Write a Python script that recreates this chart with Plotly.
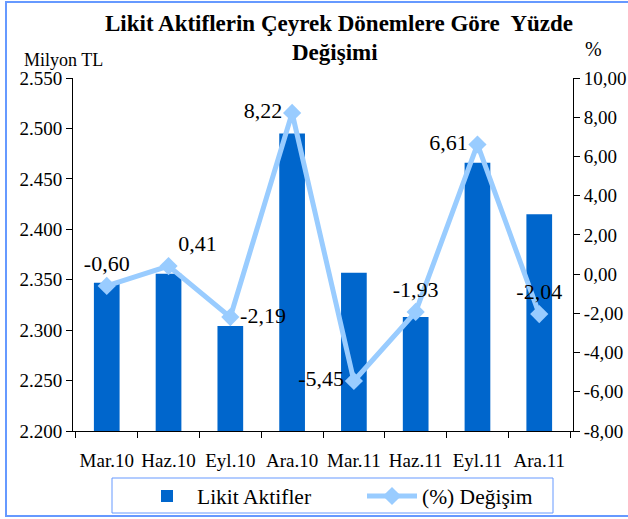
import plotly.graph_objects as go

quarters = ["Mar.10", "Haz.10", "Eyl.10", "Ara.10", "Mar.11", "Haz.11", "Eyl.11", "Ara.11"]
likit_aktifler = [2347, 2356, 2304, 2495, 2357, 2313, 2466, 2415]
degisim = [-0.60, 0.41, -2.19, 8.22, -5.45, -1.93, 6.61, -2.04]
label_pos = ["top center", "top right", "middle right", "middle left",
             "middle left", "top center", "middle left", "top center"]
left_ticks = [2200, 2250, 2300, 2350, 2400, 2450, 2500, 2550]
left_ticktext = ["2.200", "2.250", "2.300", "2.350", "2.400", "2.450", "2.500", "2.550"]
right_ticks = [-8, -6, -4, -2, 0, 2, 4, 6, 8, 10]
right_ticktext = ["-8,00", "-6,00", "-4,00", "-2,00", "0,00", "2,00", "4,00", "6,00", "8,00", "10,00"]

FONT = "Liberation Serif"

fig = go.Figure()
fig.add_trace(go.Bar(
    x=quarters, y=likit_aktifler, name="Likit Aktifler",
    marker=dict(color="#0066CC", line=dict(width=0)),
))
fig.add_trace(go.Scatter(
    x=quarters, y=degisim, name="(%) Değişim", yaxis="y2",
    mode="lines+markers+text",
    line=dict(color="#99CCFF", width=5),
    marker=dict(color="#99CCFF", size=14, symbol="diamond"),
    text=[f"{v:.2f}".replace(".", ",") for v in degisim],
    textposition=label_pos,
    textfont=dict(family=FONT, size=22, color="black"),
))

W, H = 628, 519
L, R, T, B = 73, 55, 78, 88
pw, ph = W - L - R, H - T - B


def px(x):
    return (x - L) / pw


def py(y):
    return (H - B - y) / ph


fig.update_layout(
    width=W, height=H, autosize=False,
    margin=dict(l=L, r=R, t=T, b=B, autoexpand=False),
    paper_bgcolor="white", plot_bgcolor="white",
    font=dict(family=FONT, size=19, color="black"),
    bargap=0.584,
    showlegend=True,
    legend=dict(orientation="h", x=px(137), xanchor="left", y=py(496), yanchor="middle",
                borderwidth=0, bgcolor="rgba(0,0,0,0)", font=dict(family=FONT, size=21.5),
                entrywidth=160, itemwidth=50, tracegroupgap=0),
    xaxis=dict(showline=True, linecolor="black", linewidth=1, ticks="outside",
               ticklen=6, tickcolor="black", tickson="boundaries", showgrid=False,
               tickangle=0, ticklabelstandoff=12, tickfont=dict(family=FONT, size=19)),
    yaxis=dict(range=[2200, 2550], tickvals=left_ticks, ticktext=left_ticktext,
               showline=True, linecolor="black", ticks="outside", ticklen=6,
               tickcolor="black", showgrid=False, zeroline=False,
               tickfont=dict(family=FONT, size=19)),
    yaxis2=dict(range=[-8, 10], tickvals=right_ticks, ticktext=right_ticktext,
                overlaying="y", side="right", showline=True, linecolor="black",
                ticks="outside", ticklen=6, tickcolor="black", showgrid=False,
                zeroline=False, tickfont=dict(family=FONT, size=19)),
)

fig.add_annotation(text="<b>Likit Aktiflerin Çeyrek Dönemlere Göre  Yüzde</b>",
                   xref="paper", yref="paper", x=px(339), y=py(23), xanchor="center",
                   yanchor="middle", showarrow=False, font=dict(family=FONT, size=23))
fig.add_annotation(text="<b>Değişimi</b>", xref="paper", yref="paper", xanchor="center",
                   yanchor="middle", x=px(335), y=py(53), showarrow=False,
                   font=dict(family=FONT, size=23))
fig.add_annotation(text="Milyon TL", xref="paper", yref="paper", xanchor="center",
                   yanchor="middle", x=px(63), y=py(60), showarrow=False,
                   font=dict(family=FONT, size=18))
fig.add_annotation(text="%", xref="paper", yref="paper", xanchor="center",
                   yanchor="middle", x=px(593), y=py(49), showarrow=False,
                   font=dict(family=FONT, size=20))

# legend box
fig.add_shape(type="rect", xref="paper", yref="paper",
              x0=px(112), x1=px(553), y0=py(513), y1=py(478),
              line=dict(color="#6699FF", width=1))
# outer frame
fig.add_shape(type="rect", xref="paper", yref="paper",
              x0=px(6), x1=px(640), y0=py(516), y1=py(2),
              line=dict(color="#6699FF", width=2))

fig.write_html("out.html", config={"displayModeBar": False},
               post_script="document.body.style.margin='0';")
